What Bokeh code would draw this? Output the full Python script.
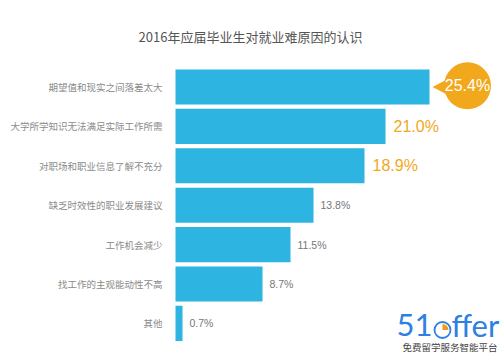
import numpy as np
from bokeh.plotting import figure
from bokeh.models import ColumnDataSource, Range1d
from bokeh.core.properties import value
from bokeh.embed import file_html
from bokeh.resources import INLINE

# ---- data ----
title = "2016年应届毕业生对就业难原因的认识"
categories = [
    "期望值和现实之间落差太大",
    "大学所学知识无法满足实际工作所需",
    "对职场和职业信息了解不充分",
    "缺乏时效性的职业发展建议",
    "工作机会减少",
    "找工作的主观能动性不高",
    "其他",
]
values = [25.4, 21.0, 18.9, 13.8, 11.5, 8.7, 0.7]
value_labels = ["25.4%", "21.0%", "18.9%", "13.8%", "11.5%", "8.7%", "0.7%"]
logo_main_left = "51"
logo_main_right = "ffer"
logo_sub = "免费留学服务智能平台"

# ---- layout ----
W, H = 500, 353
X0, XS = 175.0, 10.0      # pixel of x=0, pixels per percent
Y0, YS = 86.5, 39.4       # pixel of first bar centre, pixels per row

def px2x(px):
    return (px - X0) / XS

def py2y(py):
    return -(py - Y0) / YS

BAR = "#2db4e0"
ORANGE = "#f2a81d"
GRAY = "#8a8a8a"
CJK = value("Noto Sans CJK SC")
NUM = value("Liberation Sans")

p = figure(width=W, height=H,
           x_range=Range1d(px2x(0), px2x(W)),
           y_range=Range1d(py2y(H), py2y(0)),
           output_backend="svg", toolbar_location=None,
           x_axis_location=None, y_axis_location=None,
           min_border=0, background_fill_color="white",
           border_fill_color="white")
p.grid.visible = False
p.outline_line_color = None

ys = [-i for i in range(len(categories))]
src = ColumnDataSource(dict(y=ys, v=values, cat=categories, lab=value_labels))

# title
p.text(x=[px2x(250)], y=[py2y(36)], text=[title], text_font=CJK,
       text_font_size="13px", text_color="#555555",
       text_align="center", text_baseline="middle")

# bars
p.hbar(y="y", left=0, right="v", height=0.89, source=src,
       fill_color=BAR, line_color=None)

# category labels
p.text(x=px2x(162), y="y", text="cat", source=src, text_font=CJK,
       text_font_size="9.5px", text_color=GRAY,
       text_align="right", text_baseline="middle")

# small value labels (rows 4..7)
small = ColumnDataSource(dict(x=[v + 0.7 for v in values[3:]], y=ys[3:],
                              lab=value_labels[3:]))
p.text(x="x", y="y", text="lab", source=small, text_font=NUM,
       text_font_size="10.5px", text_color="#777777",
       text_align="left", text_baseline="middle")

# highlighted labels (rows 2..3)
big = ColumnDataSource(dict(x=[v + 0.8 for v in values[1:3]], y=ys[1:3],
                            lab=value_labels[1:3]))
p.text(x="x", y="y", text="lab", source=big, text_font=NUM,
       text_font_size="16px", text_color=ORANGE,
       text_align="left", text_baseline="middle")

# bubble for the top value
bx = values[0] + 3.8
p.patch(x=[values[0] + 0.3, values[0] + 2.0, values[0] + 2.0],
        y=[ys[0], ys[0] + 0.22, ys[0] - 0.22],
        fill_color=ORANGE, line_color=None)
p.scatter(x=[bx], y=[ys[0] + 0.03], size=47, fill_color=ORANGE,
          line_color=None)
p.text(x=[bx], y=[ys[0] + 0.03], text=[value_labels[0]], text_font=NUM,
       text_font_size="16px", text_color="white",
       text_align="center", text_baseline="middle")

# logo
LOGO = "#2e80e2"
p.text(x=[px2x(432)], y=[py2y(324.5)], text=[logo_main_left], text_font=value("Lato"),
       text_font_size="31px", text_color=LOGO,
       text_align="right", text_baseline="middle")
p.wedge(x=[px2x(442)], y=[py2y(329.5)], radius=6, radius_units="screen",
        start_angle=0, end_angle=np.pi / 2, fill_color="#f29a1b", line_color=None)
p.scatter(x=[px2x(442)], y=[py2y(329.5)], size=16, fill_color=None,
          line_color=LOGO, line_width=1.8)
p.text(x=[px2x(451)], y=[py2y(324.5)], text=[logo_main_right], text_font=value("Lato"),
       text_font_size="31px", text_color=LOGO,
       text_align="left", text_baseline="middle")
p.text(x=[px2x(449.5)], y=[py2y(346)], text=[logo_sub], text_font=CJK,
       text_font_size="9.5px", text_color="#444444",
       text_align="center", text_baseline="middle")

open("out.html", "w").write(file_html(p, INLINE))
